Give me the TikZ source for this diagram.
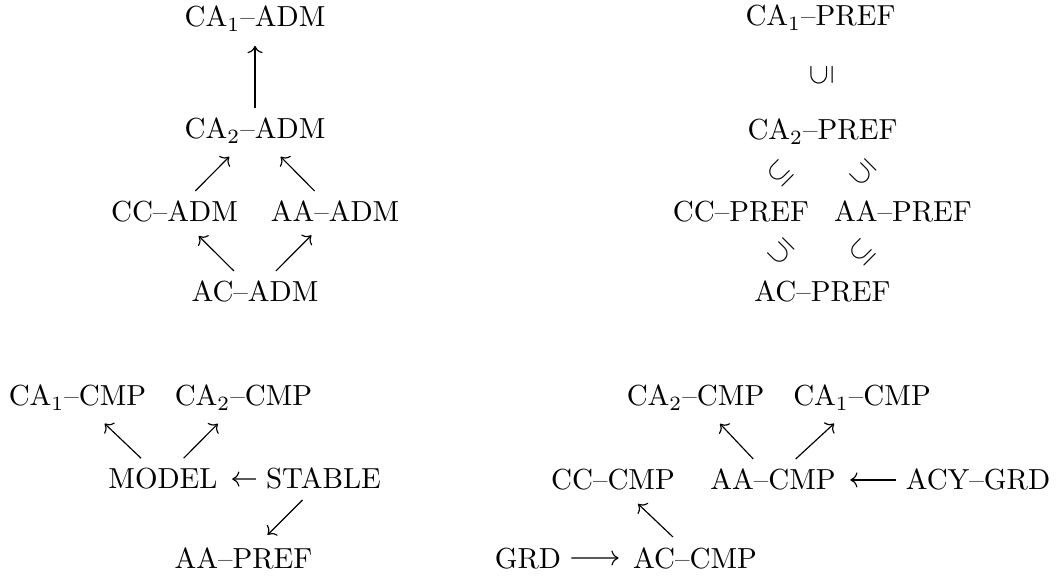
\documentclass[tikz,border=0pt]{standalone}
\usetikzlibrary{arrows.meta}

\tikzset{
	lbl/.style={anchor=base},
	incl/.style={inner sep=0pt},
	imp/.style={-{Computer Modern Rightarrow}, shorten >=1.5pt}
}

\begin{document}
\begin{tikzpicture}[x=0.3448pt,y=-0.3448pt]

	\useasboundingbox (0,0) rectangle (1062,576);

	% admissible
	\node[lbl] (ca1adm) at (255,27)   {CA$_1$--ADM};
	\node[lbl] (ca2adm) at (255,139)  {CA$_2$--ADM};
	\node[lbl] (ccadm)  at (174.5,222) {CC--ADM};
	\node[lbl] (aaadm)  at (335,222)  {AA--ADM};
	\node[lbl] (acadm)  at (255,302)  {AC--ADM};

	\draw[imp] (ca2adm) -- (ca1adm);
	\draw[imp] (ccadm) -- (ca2adm);
	\draw[imp] (aaadm) -- (ca2adm);
	\draw[imp] (acadm) -- (ccadm);
	\draw[imp] (acadm) -- (aaadm);

	% preferred
	\node[lbl] (ca1pref) at (820.5,26) {CA$_1$--PREF};
	\node[lbl] (ca2pref) at (822.5,140) {CA$_2$--PREF};
	\node[lbl] (ccpref)  at (741,222)  {CC--PREF};
	\node[lbl] (aapref)  at (903,222)  {AA--PREF};
	\node[lbl] (acpref)  at (822.5,302) {AC--PREF};

	\path (ca2pref) -- node[incl,rotate=90]  (s1) {$\subseteq$} (ca1pref);
	\path (ccpref) -- node[incl,rotate=45]   (s2) {$\subseteq$} (ca2pref);
	\path (aapref) -- node[incl,rotate=135]  (s3) {$\subseteq$} (ca2pref);
	\path (acpref) -- node[incl,rotate=135]  (s4) {$\subseteq$} (ccpref);
	\path (acpref) -- node[incl,rotate=45]   (s5) {$\subseteq$} (aapref);

	% stable
	\node[lbl] (ca1cmpl) at (77.5,406)  {CA$_1$--CMP};
	\node[lbl] (ca2cmpl) at (243.5,406) {CA$_2$--CMP};
	\node[lbl] (model)   at (163,489)   {MODEL};
	\node[lbl] (stable)  at (323.5,489) {STABLE};
	\node[lbl] (aaprefl) at (243.5,569) {AA--PREF};

	\draw[imp] (model) -- (ca1cmpl);
	\draw[imp] (model) -- (ca2cmpl);
	\draw[imp] (stable) -- (model);
	\draw[imp] (stable) -- (aaprefl);

	% complete
	\node[lbl] (ca2cmpr) at (695.5,406) {CA$_2$--CMP};
	\node[lbl] (ca1cmpr) at (862,406)   {CA$_1$--CMP};
	\node[lbl] (cccmp)   at (613,490)   {CC--CMP};
	\node[lbl] (aacmp)   at (773,490)   {AA--CMP};
	\node[lbl] (acygrd)  at (978,490)   {ACY--GRD};
	\node[lbl] (grd)     at (528,568)   {GRD};
	\node[lbl] (accmp)   at (695,568)   {AC--CMP};

	\draw[imp] (aacmp) -- (ca2cmpr);
	\draw[imp] (aacmp) -- (ca1cmpr);
	\draw[imp] (acygrd) -- (aacmp);
	\draw[imp] (accmp) -- (cccmp);
	\draw[imp] (grd) -- (accmp);

\end{tikzpicture}
\end{document}
